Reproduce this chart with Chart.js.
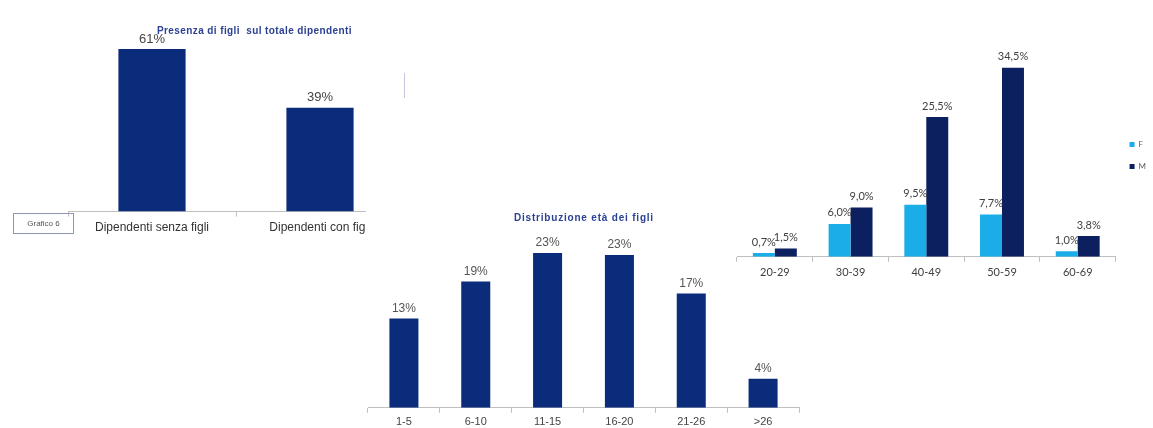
<!DOCTYPE html>
<html>
<head>
<meta charset="utf-8">
<script src="https://cdn.jsdelivr.net/npm/chart.js@4.4.1/dist/chart.umd.min.js"></script>
<style>
html, body { margin: 0; padding: 0; background: #fff; }
body { width: 1153px; height: 428px; position: relative; overflow: hidden; font-family: "Liberation Sans", Arial, sans-serif; }
.box { position: absolute; overflow: hidden; }
.title { position: absolute; font-weight: bold; color: #2c4193; font-size: 10px; white-space: pre; }
</style>
</head>
<body>
<div class="box" style="left:0;top:0;width:366px;height:239px;"><canvas id="figliChart" width="420" height="239"></canvas></div>
<div class="box" style="left:340px;top:202px;width:480px;height:230px;"><canvas id="etaChart" width="480" height="230"></canvas></div>
<div class="box" style="left:720px;top:40px;width:433px;height:243px;"><canvas id="sessoChart" width="440" height="243"></canvas></div>

<div class="title" style="left:157px;top:25px;letter-spacing:0.4px;">Presenza di figli  sul totale dipendenti</div>
<div class="title" style="left:514px;top:212px;letter-spacing:0.8px;">Distribuzione età dei figli</div>
<div style="position:absolute;left:13px;top:213px;width:59px;height:19px;border:1px solid #8c96b4;font-size:8px;color:#555;text-align:center;line-height:19px;">Grafico 6</div>
<div style="position:absolute;left:404px;top:73px;width:1px;height:25px;background:#c5c8dc;"></div>

<script>
// Grafico 1 - presenza di figli
const figliCats = ['Dipendenti senza figli', 'Dipendenti con figli'];
const figliVals = [61, 39];

// Grafico 2 - distribuzione età dei figli
const etaCats = ['1-5', '6-10', '11-15', '16-20', '21-26', '>26'];
const etaVals = [13.2, 18.7, 22.9, 22.6, 16.9, 4.3];

// Grafico 3 - fasce d'età per sesso
const sessoCats = ['20-29', '30-39', '40-49', '50-59', '60-69'];
const femmine = [0.7, 6.0, 9.5, 7.7, 1.0];
const maschi = [1.5, 9.0, 25.5, 34.5, 3.8];

const navy = '#0b2b7b';
const axisGrey = '#c0c0c0';

// value labels above each bar
function barLabels(font, color, offset, fmt) {
    return {
        id: 'barLabels',
        afterDatasetsDraw(chart) {
            const ctx = chart.ctx;
            ctx.save();
            ctx.font = font;
            ctx.fillStyle = color;
            ctx.textAlign = 'center';
            ctx.textBaseline = 'middle';
            chart.data.datasets.forEach((ds, i) => {
                chart.getDatasetMeta(i).data.forEach((bar, j) => {
                    ctx.fillText(fmt(ds.data[j]), bar.x, bar.y - offset);
                });
            });
            ctx.restore();
        }
    };
}

function xAxis(family, size, color, padding) {
    return {
        grid: { drawOnChartArea: false, tickLength: 5, color: axisGrey },
        border: { color: axisGrey },
        ticks: { font: { family: family, size: size }, color: color, padding: padding, maxRotation: 0, autoSkip: false }
    };
}

new Chart(document.getElementById('figliChart').getContext('2d'), {
    type: 'bar',
    data: {
        labels: figliCats,
        datasets: [{
            data: figliVals,
            backgroundColor: navy,
            barPercentage: 0.8,
            categoryPercentage: 0.5
        }]
    },
    options: {
        responsive: false,
        animation: false,
        layout: { padding: { left: 68, right: 16, top: 25, bottom: 0 } },
        plugins: { legend: { display: false }, tooltip: { enabled: false } },
        scales: {
            x: xAxis('Liberation Sans', 12, '#333', 4),
            y: { display: false, min: 0, max: 70 }
        }
    },
    plugins: [barLabels('13px "Liberation Sans"', '#444', 10, v => Math.round(v) + '%')]
});

new Chart(document.getElementById('etaChart').getContext('2d'), {
    type: 'bar',
    data: {
        labels: etaCats,
        datasets: [{
            data: etaVals,
            backgroundColor: navy,
            barPercentage: 0.8,
            categoryPercentage: 0.505
        }]
    },
    options: {
        responsive: false,
        animation: false,
        layout: { padding: { left: 28, right: 21, top: 3, bottom: 0 } },
        plugins: { legend: { display: false }, tooltip: { enabled: false } },
        scales: {
            x: xAxis('Liberation Sans', 11, '#444', 3),
            y: { display: false, min: 0, max: 30 }
        }
    },
    plugins: [barLabels('12px "Liberation Sans"', '#555', 10, v => Math.round(v) + '%')]
});

new Chart(document.getElementById('sessoChart').getContext('2d'), {
    type: 'bar',
    data: {
        labels: sessoCats,
        datasets: [
            { label: 'F', data: femmine, backgroundColor: '#1aade8', barPercentage: 1, categoryPercentage: 0.58 },
            { label: 'M', data: maschi, backgroundColor: '#0c1f5e', barPercentage: 1, categoryPercentage: 0.58 }
        ]
    },
    options: {
        responsive: false,
        animation: false,
        layout: { padding: { left: 17, right: 4, top: 14, bottom: 0 } },
        plugins: {
            legend: {
                position: 'right',
                fullSize: false,
                labels: { font: { family: 'Lato', size: 8 }, color: '#595959', boxWidth: 5, boxHeight: 5, padding: 14 }
            },
            tooltip: { enabled: false }
        },
        scales: {
            x: xAxis('Lato', 11, '#404040', 4),
            y: { display: false, min: 0, max: 37 }
        }
    },
    plugins: [barLabels('11px Lato', '#404040', 11, v => v.toFixed(1).replace('.', ',') + '%')]
});
</script>
</body>
</html>
